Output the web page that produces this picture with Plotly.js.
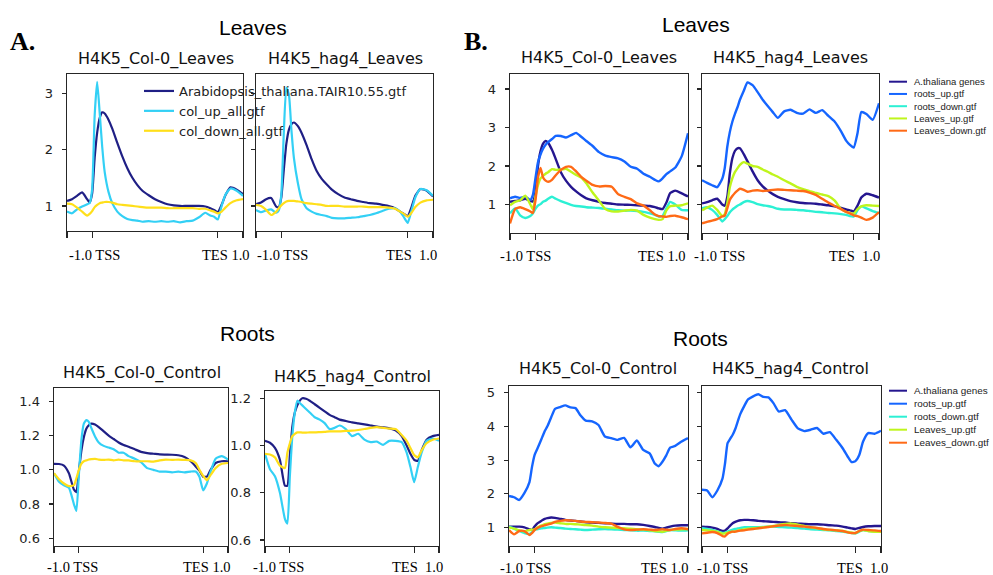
<!DOCTYPE html>
<html><head><meta charset="utf-8">
<script src="https://cdn.plot.ly/plotly-3.0.1.min.js"></script>
<style>html,body{margin:0;padding:0;background:#fff}#chart{width:993px;height:575px}</style>
</head><body><div id="chart"></div>
<script>
// ---------- DATA ----------
// bin positions: -1.0 = 0, TSS = 20, TES = 120, 1.0 = 140
const X_BINS = [0,4,8,12,16,18,20,22,24,26,28,30,33,36,40,44,48,52,56,60,65,70,75,80,85,90,95,100,105,110,114,117,120,123,126,130,135,140];
const X_TICKS = [0,20,120,140];
const X_LEFT_LABEL = '-1.0 TSS';
const X_RIGHT_LABEL_COL = 'TES 1.0';
const X_RIGHT_LABEL_HAG = 'TES\u00a0\u00a01.0';

const A_NAMES = ['Arabidopsis_thaliana.TAIR10.55.gtf','col_up_all.gtf','col_down_all.gtf'];
const B_NAMES = ['A.thaliana genes','roots_up.gtf','roots_down.gtf','Leaves_up.gtf','Leaves_down.gtf'];

const A_TITLES = ['H4K5_Col-0_Leaves','H4K5_hag4_Leaves','H4K5_Col-0_Control','H4K5_hag4_Control'];
const B_TITLES = ['H4K5_Col-0_Leaves','H4K5_hag4_Leaves','H4K5_Col-0_Control','H4K5_hag4_Control'];
const GROUP_TITLES = ['Leaves','Roots'];
const PANEL_LETTERS = ['A.','B.'];

const YT_A_LEAVES = [1,2,3];
const YT_A_ROOTS_COL = [0.6,0.8,1.0,1.2,1.4];
const YT_A_ROOTS_HAG = [0.6,0.8,1.0,1.2];
const YT_B_LEAVES = [1,2,3,4];
const YT_B_ROOTS = [1,2,3,4,5];

// Panel A, Leaves, Col-0
const A_LC_genes = [1.09,1.12,1.18,1.24,1.12,1.06,1.22,1.85,2.30,2.56,2.66,2.64,2.53,2.37,2.12,1.88,1.67,1.50,1.37,1.27,1.19,1.12,1.07,1.03,1.01,1.00,1.00,1.00,1.00,0.99,0.96,0.93,0.89,1.02,1.19,1.33,1.29,1.21];
const A_LC_up    = [0.90,0.87,0.94,0.99,1.03,1.05,1.30,2.60,3.20,2.65,2.05,1.60,1.25,1.05,0.90,0.82,0.77,0.75,0.74,0.72,0.73,0.72,0.73,0.72,0.73,0.71,0.73,0.74,0.80,0.88,0.83,0.81,0.76,1.00,1.20,1.31,1.27,1.18];
const A_LC_down  = [1.04,1.03,0.97,0.90,0.83,0.86,0.91,0.98,1.02,1.05,1.06,1.07,1.07,1.06,1.03,1.02,1.01,1.00,0.99,0.98,0.97,0.97,0.97,0.96,0.96,0.96,0.96,0.96,0.95,0.95,0.92,0.90,0.87,0.90,0.97,1.05,1.10,1.12];
// Panel A, Leaves, hag4
const A_LH_genes = [1.03,1.06,1.12,1.14,0.99,0.98,1.15,1.64,2.10,2.35,2.45,2.48,2.42,2.30,2.08,1.83,1.62,1.48,1.38,1.29,1.21,1.15,1.12,1.09,1.07,1.05,1.04,1.02,1.00,0.96,0.90,0.86,0.82,0.98,1.18,1.30,1.27,1.17];
const A_LH_up    = [0.93,0.89,0.92,0.94,0.88,0.92,1.20,2.30,3.10,2.98,2.35,1.85,1.42,1.12,0.96,0.90,0.86,0.84,0.82,0.79,0.78,0.78,0.79,0.80,0.82,0.84,0.87,0.91,0.95,0.96,0.90,0.80,0.70,0.92,1.15,1.30,1.28,1.18];
const A_LH_down  = [1.02,1.00,0.93,0.84,0.90,0.96,1.01,1.05,1.08,1.09,1.09,1.09,1.08,1.07,1.05,1.04,1.03,1.02,1.00,1.00,1.00,0.99,0.99,0.99,0.99,0.98,0.98,0.98,0.97,0.95,0.90,0.86,0.81,0.88,0.98,1.06,1.10,1.11];
// Panel A, Roots, Col-0
const A_RC_genes = [1.035,1.034,1.025,0.98,0.885,0.87,0.99,1.11,1.19,1.24,1.26,1.27,1.265,1.25,1.225,1.20,1.18,1.16,1.145,1.135,1.12,1.105,1.098,1.094,1.09,1.089,1.088,1.085,1.075,1.05,1.02,0.995,0.96,0.96,1.00,1.04,1.05,1.05];
const A_RC_up    = [0.98,0.93,0.91,0.895,0.80,0.76,0.97,1.17,1.27,1.29,1.28,1.245,1.195,1.16,1.14,1.13,1.12,1.10,1.10,1.08,1.065,1.045,1.01,1.00,0.99,0.99,0.985,0.99,0.985,0.99,0.99,0.96,0.88,0.92,0.99,1.065,1.08,1.06];
const A_RC_down  = [0.98,0.945,0.92,0.905,0.91,0.95,1.00,1.035,1.05,1.055,1.06,1.062,1.064,1.06,1.058,1.06,1.055,1.06,1.055,1.055,1.05,1.05,1.05,1.048,1.055,1.06,1.058,1.06,1.058,1.055,1.04,1.00,0.965,0.94,0.97,1.01,1.035,1.04];
// Panel A, Roots, hag4
const A_RH_genes = [1.02,1.012,0.99,0.94,0.83,0.83,0.96,1.08,1.14,1.17,1.19,1.20,1.198,1.19,1.175,1.16,1.145,1.13,1.12,1.11,1.104,1.098,1.094,1.09,1.085,1.08,1.077,1.073,1.065,1.04,1.00,0.965,0.94,0.935,0.98,1.025,1.04,1.045];
const A_RH_up    = [0.965,0.90,0.87,0.80,0.69,0.67,0.87,1.04,1.14,1.19,1.18,1.17,1.155,1.14,1.12,1.11,1.095,1.07,1.075,1.085,1.07,1.04,1.05,1.025,1.015,1.017,1.003,1.02,1.02,1.015,0.97,0.91,0.845,0.91,0.97,1.02,1.03,1.02];
const A_RH_down  = [0.965,0.962,0.95,0.915,0.905,0.97,1.01,1.04,1.05,1.056,1.056,1.055,1.055,1.056,1.056,1.057,1.058,1.06,1.06,1.06,1.062,1.063,1.066,1.07,1.075,1.078,1.075,1.072,1.07,1.045,1.02,0.99,0.96,0.95,0.98,1.01,1.025,1.03];

// Panel B, Leaves, Col-0
const B_LC_genes      = [1.07,1.09,1.11,1.15,1.09,1.08,1.30,2.00,2.38,2.58,2.65,2.60,2.42,2.18,1.84,1.62,1.46,1.34,1.24,1.16,1.11,1.07,1.04,1.02,1.00,0.995,0.99,0.98,0.97,0.96,0.93,0.90,0.88,1.05,1.30,1.36,1.29,1.21];
const B_LC_rootsUp    = [1.16,1.20,1.17,1.20,1.12,1.25,1.68,2.10,2.30,2.45,2.55,2.62,2.70,2.78,2.78,2.74,2.80,2.86,2.76,2.65,2.52,2.36,2.27,2.23,2.20,2.12,1.98,1.93,1.80,1.72,1.64,1.60,1.68,1.79,1.86,1.96,2.25,2.85];
const B_LC_rootsDown  = [0.77,0.90,0.72,0.65,0.70,0.77,0.89,0.97,1.01,1.07,1.10,1.15,1.20,1.15,1.09,1.04,0.99,0.96,0.95,0.93,0.92,0.91,0.89,0.87,0.85,0.84,0.84,0.83,0.81,0.77,0.73,0.69,0.70,0.90,1.07,1.00,0.86,0.85];
const B_LC_leavesUp   = [0.98,1.07,1.11,1.23,1.00,0.87,1.20,1.50,1.68,1.74,1.80,1.84,1.92,1.90,1.91,1.93,1.85,1.77,1.70,1.55,1.31,1.10,0.88,0.82,0.82,0.84,0.86,0.84,0.73,0.66,0.62,0.60,0.62,0.85,0.96,0.97,0.98,1.03];
const B_LC_leavesDown = [0.51,0.88,0.93,0.88,0.82,0.78,1.10,1.70,1.95,1.70,1.62,1.59,1.64,1.76,1.90,1.98,1.98,1.86,1.72,1.62,1.51,1.47,1.48,1.46,1.27,1.20,1.14,1.03,0.97,0.85,0.74,0.70,0.69,0.68,0.70,0.71,0.67,0.62];
// Panel B, Leaves, hag4
const B_LH_genes      = [1.03,1.06,1.11,1.15,1.00,0.97,1.20,1.80,2.20,2.39,2.46,2.46,2.31,2.12,1.86,1.63,1.47,1.36,1.27,1.20,1.14,1.09,1.06,1.04,1.03,1.02,1.00,0.98,0.95,0.91,0.87,0.85,0.82,0.97,1.18,1.28,1.24,1.18];
const B_LH_rootsUp    = [1.63,1.56,1.50,1.45,1.67,1.95,2.50,2.88,3.15,3.35,3.52,3.72,3.95,4.17,4.10,3.92,3.72,3.56,3.40,3.25,3.42,3.46,3.38,3.36,3.47,3.38,3.45,3.30,3.15,2.90,2.66,2.55,2.48,2.85,3.40,3.35,3.20,3.63];
const B_LH_rootsDown  = [0.90,0.93,0.86,0.73,0.56,0.62,0.70,0.80,0.87,0.92,0.97,1.00,1.06,1.09,1.06,1.01,0.98,0.96,0.93,0.89,0.87,0.87,0.86,0.85,0.83,0.81,0.80,0.78,0.77,0.75,0.73,0.70,0.69,0.85,0.95,0.90,0.83,0.78];
const B_LH_leavesUp   = [0.85,0.92,0.97,0.86,0.70,0.75,1.03,1.45,1.68,1.84,1.94,2.03,2.10,2.06,2.00,1.98,1.91,1.85,1.78,1.72,1.63,1.55,1.46,1.40,1.35,1.30,1.26,1.22,1.10,0.88,0.81,0.78,0.76,0.88,0.95,0.98,0.97,0.96];
const B_LH_leavesDown = [0.51,0.55,0.58,0.62,0.69,0.71,0.90,1.12,1.22,1.30,1.36,1.41,1.38,1.33,1.36,1.37,1.35,1.36,1.38,1.39,1.38,1.37,1.36,1.35,1.31,1.25,1.15,1.05,0.96,0.88,0.81,0.77,0.72,0.70,0.66,0.60,0.66,0.80];
// Panel B, Roots, Col-0
const B_RC_genes      = [1.03,1.03,1.03,1.01,0.95,0.93,1.03,1.12,1.17,1.22,1.26,1.28,1.30,1.29,1.26,1.23,1.21,1.20,1.18,1.16,1.15,1.14,1.13,1.12,1.11,1.11,1.10,1.10,1.08,1.05,1.02,0.99,0.97,1.00,1.03,1.06,1.07,1.07];
const B_RC_rootsUp    = [1.94,1.90,1.82,2.02,2.35,2.80,3.15,3.32,3.50,3.68,3.86,4.00,4.27,4.52,4.57,4.62,4.56,4.54,4.32,4.17,4.15,4.04,3.70,3.65,3.60,3.66,3.38,3.58,3.30,3.20,2.90,2.82,2.95,3.14,3.37,3.42,3.55,3.65];
const B_RC_rootsDown  = [1.03,0.97,0.90,0.84,0.81,0.86,0.93,0.95,0.97,0.98,0.99,1.00,1.01,1.00,0.99,0.97,0.96,0.95,0.94,0.93,0.94,0.95,0.96,0.95,0.94,0.93,0.92,0.91,0.91,0.90,0.89,0.88,0.87,0.90,0.93,0.92,0.91,0.92];
const B_RC_leavesUp   = [1.01,0.97,0.92,0.89,0.93,0.94,0.95,1.00,1.04,1.07,1.10,1.12,1.14,1.15,1.13,1.11,1.11,1.10,1.09,1.08,1.06,1.03,1.01,1.00,0.99,0.98,0.97,0.95,0.94,0.92,0.90,0.89,0.88,0.91,0.93,0.94,0.95,0.96];
const B_RC_leavesDown = [0.93,0.80,0.90,0.90,0.78,0.84,0.93,0.98,1.02,1.05,1.07,1.09,1.12,1.17,1.20,1.22,1.21,1.20,1.18,1.17,1.16,1.15,1.14,1.12,1.02,0.95,0.93,0.94,0.95,0.94,0.93,0.94,0.95,0.94,0.93,0.96,0.98,0.95];
// Panel B, Roots, hag4
const B_RH_genes      = [1.03,1.02,1.00,0.96,0.90,0.91,0.98,1.06,1.13,1.17,1.20,1.22,1.23,1.23,1.22,1.20,1.19,1.18,1.17,1.16,1.15,1.13,1.12,1.11,1.10,1.10,1.09,1.07,1.06,1.03,1.00,0.98,0.96,0.99,1.02,1.04,1.05,1.05];
const B_RH_rootsUp    = [2.12,2.10,1.90,2.10,2.45,2.90,3.50,3.63,3.75,3.92,4.15,4.37,4.60,4.80,4.89,4.95,4.87,4.86,4.68,4.44,4.48,4.20,3.94,3.86,3.90,3.95,3.78,3.83,3.60,3.35,3.10,2.94,2.97,3.15,3.55,3.80,3.78,3.87];
const B_RH_rootsDown  = [0.98,0.96,0.93,0.89,0.84,0.85,0.88,0.91,0.94,0.96,0.98,0.99,1.01,1.01,1.01,1.01,1.02,1.03,1.03,1.02,1.01,1.00,0.99,0.97,0.95,0.94,0.93,0.92,0.90,0.88,0.86,0.84,0.83,0.88,0.93,0.90,0.89,0.88];
const B_RH_leavesUp   = [0.93,0.92,0.90,0.87,0.82,0.83,0.85,0.87,0.88,0.89,0.91,0.93,0.95,0.97,0.98,0.99,1.01,1.03,1.05,1.08,1.11,1.12,1.09,1.05,1.01,0.98,0.95,0.93,0.92,0.90,0.87,0.85,0.84,0.90,0.93,0.90,0.88,0.88];
const B_RH_leavesDown = [0.83,0.85,0.87,0.84,0.75,0.74,0.82,0.86,0.88,0.88,0.90,0.91,0.92,0.94,0.96,0.98,1.00,1.02,1.04,1.06,1.08,1.06,1.05,1.03,1.01,0.99,0.96,0.94,0.92,0.90,0.86,0.84,0.84,0.90,0.94,0.93,0.92,0.90];

// ---------- STYLE / LAYOUT ----------
const W = 993, H = 575;
const px = v => v / W, py = v => 1 - v / H;
const A_COLORS = ['#1f1f85','#33d0f5','#ffdf1a'];
const B_COLORS = ['#25168f','#1565ff','#2cf0d4','#bff51c','#ff6a16'];
const SANS = 'DejaVu Sans, sans-serif';
const SERIF = 'Liberation Serif, Times New Roman, serif';

const panels = [
  {x:[67,243],  y:[74,231],  yr:[0.556,3.34], yt:YT_A_LEAVES, lab:true,  series:[A_LC_genes,A_LC_up,A_LC_down], names:A_NAMES, colors:A_COLORS, lw:2.2, legend:true, title:A_TITLES[0], tx:155.5, ty:59, xl:[67,252], xly:255, right:X_RIGHT_LABEL_COL},
  {x:[256,433], y:[74,231],  yr:[0.556,3.34], yt:YT_A_LEAVES, lab:false, series:[A_LH_genes,A_LH_up,A_LH_down], names:A_NAMES, colors:A_COLORS, lw:2.2, title:A_TITLES[1], tx:345, ty:59, xl:[255,439], xly:255, right:X_RIGHT_LABEL_HAG},
  {x:[54,228],  y:[388,546], yr:[0.555,1.478], yt:YT_A_ROOTS_COL, lab:true, series:[A_RC_genes,A_RC_up,A_RC_down], names:A_NAMES, colors:A_COLORS, lw:2.2, title:A_TITLES[2], tx:142, ty:373, xl:[45,233], xly:567, right:X_RIGHT_LABEL_COL},
  {x:[265,439], y:[391,546], yr:[0.575,1.231], yt:YT_A_ROOTS_HAG, lab:true, series:[A_RH_genes,A_RH_up,A_RH_down], names:A_NAMES, colors:A_COLORS, lw:2.2, title:A_TITLES[3], tx:352, ty:377, xl:[251,445], xly:567, right:X_RIGHT_LABEL_HAG},
  {x:[510,688], y:[74,233],  yr:[0.26,4.39], yt:YT_B_LEAVES, lab:true,  series:[B_LC_genes,B_LC_rootsUp,B_LC_rootsDown,B_LC_leavesUp,B_LC_leavesDown], names:B_NAMES, colors:B_COLORS, lw:2.4, title:B_TITLES[0], tx:599, ty:58, xl:[498,688], xly:256, right:X_RIGHT_LABEL_COL},
  {x:[702,879], y:[74,233],  yr:[0.26,4.39], yt:YT_B_LEAVES, lab:false, series:[B_LH_genes,B_LH_rootsUp,B_LH_rootsDown,B_LH_leavesUp,B_LH_leavesDown], names:B_NAMES, colors:B_COLORS, lw:2.4, title:B_TITLES[1], tx:790, ty:58, xl:[692,882], xly:256, right:X_RIGHT_LABEL_HAG},
  {x:[509,688], y:[386,546], yr:[0.456,5.195], yt:YT_B_ROOTS, lab:true, series:[B_RC_genes,B_RC_rootsUp,B_RC_rootsDown,B_RC_leavesUp,B_RC_leavesDown], names:B_NAMES, colors:B_COLORS, lw:2.4, title:B_TITLES[2], tx:598, ty:369, xl:[498,691], xly:568, right:X_RIGHT_LABEL_COL},
  {x:[702,881], y:[386,546], yr:[0.456,5.195], yt:YT_B_ROOTS, lab:false, series:[B_RH_genes,B_RH_rootsUp,B_RH_rootsDown,B_RH_leavesUp,B_RH_leavesDown], names:B_NAMES, colors:B_COLORS, lw:2.4, title:B_TITLES[3], tx:790, ty:369, xl:[695,890], xly:568, right:X_RIGHT_LABEL_HAG}
];

const axBase = {showgrid:false, zeroline:false, showline:true, mirror:true, linecolor:'#262626', linewidth:1.4,
  ticks:'outside', tickcolor:'#262626', tickwidth:1.2, fixedrange:true};

const traces = [];
const annotations = [];
const shapes = [];
const layout = {
  width:W, height:H, margin:{l:0,r:0,t:0,b:0}, paper_bgcolor:'#fff', plot_bgcolor:'#fff',
  showlegend:true,
  legend:{x:px(139), y:py(76), xanchor:'left', yanchor:'top', bgcolor:'rgba(0,0,0,0)', borderwidth:0,
    font:{family:SANS, size:13, color:'#222'}, tracegroupgap:0},
  annotations, shapes
};

panels.forEach((p,i) => {
  const n = i === 0 ? '' : String(i+1);
  p.series.forEach((ys,k) => {
    traces.push({type:'scatter', mode:'lines', x:X_BINS, y:ys, xaxis:'x'+n, yaxis:'y'+n,
      name:p.names[k], showlegend:!!p.legend, hoverinfo:'skip',
      line:{color:p.colors[k], width:p.lw, shape:'spline', smoothing:0.5}});
  });
  layout['xaxis'+n] = Object.assign({}, axBase, {domain:[px(p.x[0]),px(p.x[1])], range:[0,140],
    tickvals:X_TICKS, showticklabels:false, ticklen:6, anchor:'y'+n});
  layout['yaxis'+n] = Object.assign({}, axBase, {domain:[py(p.y[1]),py(p.y[0])], range:p.yr,
    tickvals:p.yt, ticktext:p.yt.map(v => p.yt[0] < 1 ? v.toFixed(1) : String(v)), showticklabels:p.lab,
    ticklen:4, ticklabelstandoff:6, anchor:'x'+n, tickfont:{family:SANS, size:13, color:'#222'}});
  annotations.push({text:p.title, xref:'paper', yref:'paper', x:px(p.tx), y:py(p.ty), xanchor:'center', yanchor:'middle',
    showarrow:false, font:{family:SANS, size:16, color:'#111'}});
  annotations.push({text:X_LEFT_LABEL, xref:'paper', yref:'paper', x:px(p.xl[0]), y:py(p.xly), xanchor:'left', yanchor:'middle',
    showarrow:false, font:{family:SERIF, size:14.5, color:'#000'}});
  annotations.push({text:p.right, xref:'paper', yref:'paper', x:px(p.xl[1]), y:py(p.xly), xanchor:'right', yanchor:'middle',
    showarrow:false, font:{family:SERIF, size:14.5, color:'#000'}});
});

// group titles and panel letters
[[GROUP_TITLES[0],252.5,27],[GROUP_TITLES[0],696,25],[GROUP_TITLES[1],247.5,333],[GROUP_TITLES[1],700,338]].forEach(g => {
  annotations.push({text:g[0], xref:'paper', yref:'paper', x:px(g[1]), y:py(g[2]), xanchor:'center', yanchor:'middle',
    showarrow:false, font:{family:'Liberation Sans, Arial, sans-serif', size:21, color:'#000'}});
});
[[PANEL_LETTERS[0],22,41],[PANEL_LETTERS[1],475.5,41]].forEach(g => {
  annotations.push({text:'<b>'+g[0]+'</b>', xref:'paper', yref:'paper', x:px(g[1]), y:py(g[2]), xanchor:'center', yanchor:'middle',
    showarrow:false, font:{family:SERIF, size:26, color:'#000'}});
});

// compact legends for panel B (drawn from B_NAMES / B_COLORS)
[{lx:[889,907], tx:912, y0:81.7, dy:12.25, fs:9.5},{lx:[889,907], tx:912, y0:390.7, dy:13, fs:9.9}].forEach(L => {
  B_NAMES.forEach((nm,k) => {
    const yy = L.y0 + k*L.dy;
    shapes.push({type:'line', xref:'paper', yref:'paper', x0:px(L.lx[0]), x1:px(L.lx[1]), y0:py(yy), y1:py(yy),
      line:{color:B_COLORS[k], width:2}});
    annotations.push({text:nm, xref:'paper', yref:'paper', x:px(L.tx), y:py(yy), xanchor:'left', yanchor:'middle',
      showarrow:false, font:{family:'Liberation Sans, Arial, sans-serif', size:L.fs, color:'#222'}});
  });
});

Plotly.newPlot('chart', traces, layout, {displayModeBar:false, staticPlot:true});
</script></body></html>
